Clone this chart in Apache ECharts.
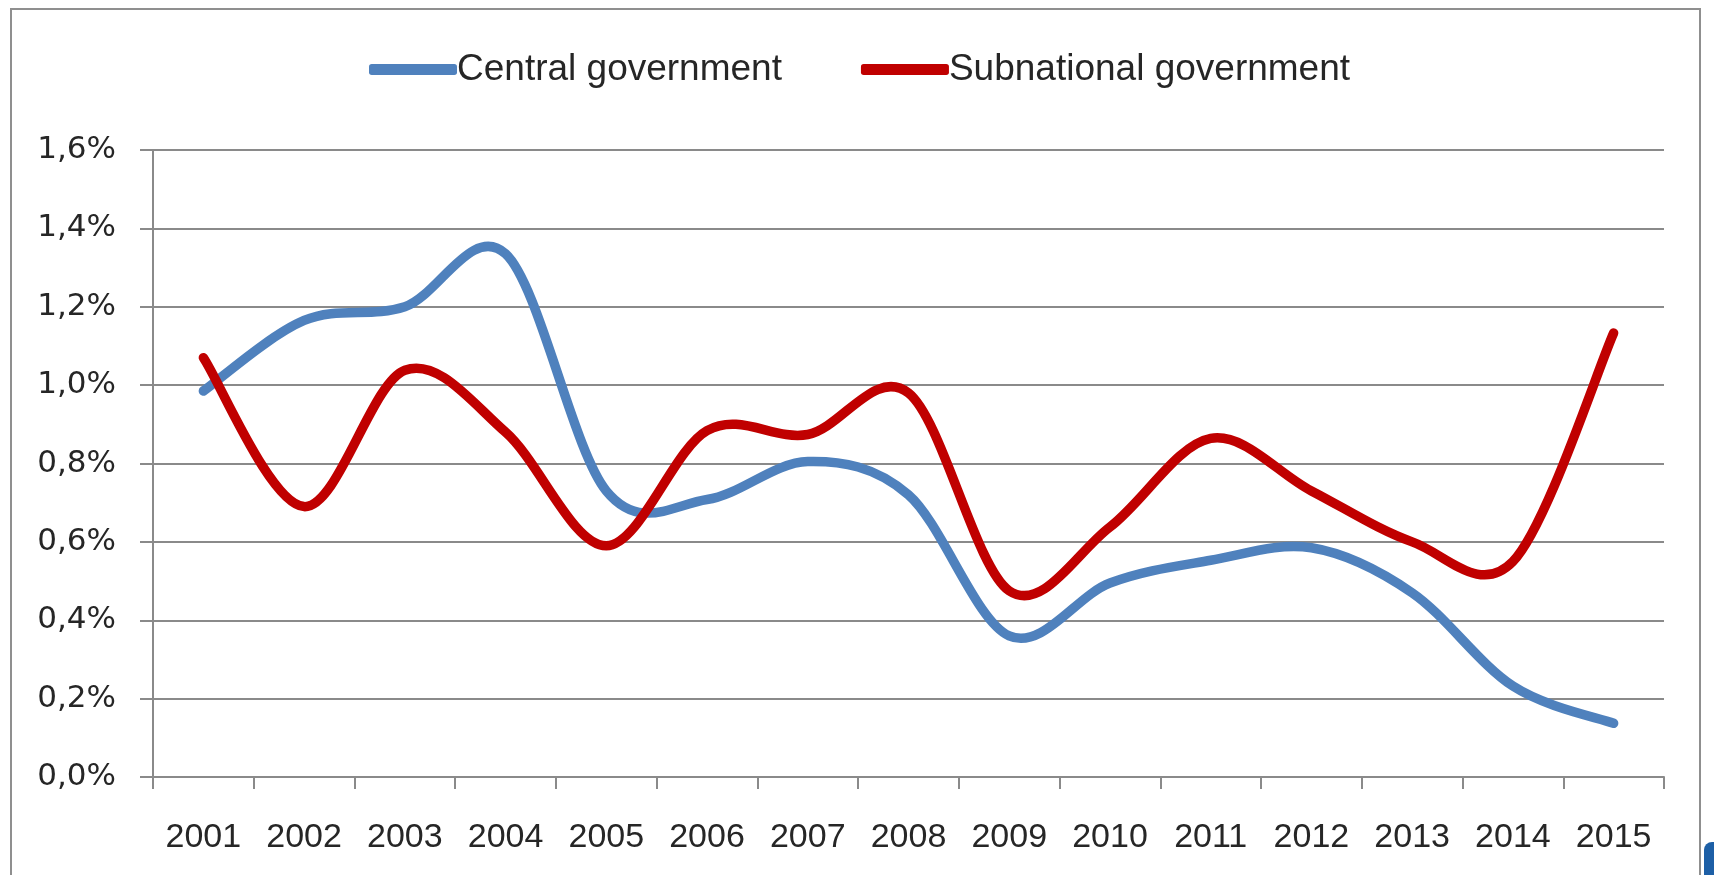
<!DOCTYPE html>
<html>
<head>
<meta charset="utf-8">
<script src="https://cdn.jsdelivr.net/npm/echarts@6/dist/echarts.min.js"></script>
<style>
  html, body { margin: 0; padding: 0; background: #fff; }
  #chart { width: 1714px; height: 875px; }
</style>
</head>
<body>
<div id="chart"></div>
<script>
// categories and values (in %)
var years = ['2001', '2002', '2003', '2004', '2005', '2006', '2007', '2008',
  '2009', '2010', '2011', '2012', '2013', '2014', '2015']
var central = [0.985, 1.165, 1.2, 1.335, 0.73, 0.708, 0.805, 0.72,
  0.36, 0.495, 0.553, 0.585, 0.47, 0.232, 0.137]
var subnational = [1.07, 0.69, 1.038, 0.88, 0.59, 0.884, 0.874, 0.98,
  0.475, 0.638, 0.864, 0.73, 0.6, 0.55, 1.133]
var yTicks = { min: 0, max: 1.6, step: 0.2 }

var gray = '#8a8a8a'
var textColor = '#262626'
var blue = '#4f81bd'
var red = '#c00000'

// Excel-style smoothed line (Catmull-Rom as cubic bezier), points come from api.coord
function smoothPath (api, values) {
  var pts = values.map(function (v, i) { return api.coord([i, v]) })
  var d = 'M' + pts[0][0] + ',' + pts[0][1]
  for (var i = 0; i < pts.length - 1; i++) {
    var p0 = pts[i - 1] || pts[i]
    var p1 = pts[i]
    var p2 = pts[i + 1]
    var p3 = pts[i + 2] || p2
    var c1x = p1[0] + (p2[0] - p0[0]) / 6
    var c1y = p1[1] + (p2[1] - p0[1]) / 6
    var c2x = p2[0] - (p3[0] - p1[0]) / 6
    var c2y = p2[1] - (p3[1] - p1[1]) / 6
    d += ' C' + c1x + ',' + c1y + ' ' + c2x + ',' + c2y + ' ' + p2[0] + ',' + p2[1]
  }
  return d
}

function lineSeries (name, values, color) {
  return {
    name: name,
    type: 'custom',
    data: values.map(function (v, i) { return [i, v] }),
    encode: { x: 0, y: 1 },
    itemStyle: { color: color },
    renderItem: function (params, api) {
      if (params.dataIndex !== 0) return null
      return {
        type: 'path',
        shape: { pathData: smoothPath(api, values) },
        style: {
          fill: 'none',
          stroke: color,
          lineWidth: 9.5,
          lineCap: 'round',
          lineJoin: 'round'
        }
      }
    }
  }
}

var myChart = echarts.init(document.getElementById('chart'))

myChart.setOption({
  animation: false,
  backgroundColor: '#fff',
  graphic: [
    {
      // outer frame of the chart area
      type: 'rect',
      shape: { x: 11, y: 9, width: 1689, height: 900 },
      style: { fill: 'none', stroke: '#8f8f8f', lineWidth: 2 },
      silent: true
    },
    {
      // cut-off blue shape in the lower right corner
      type: 'rect',
      shape: { x: 1704, y: 842, width: 20, height: 50, r: 8 },
      style: { fill: '#1d5fa6' },
      silent: true
    }
  ],
  legend: {
    top: 46,
    left: 364,
    itemWidth: 88,
    itemHeight: 11,
    itemGap: 79,
    icon: 'roundRect',
    textStyle: {
      fontFamily: '"Liberation Sans", Arial, sans-serif',
      fontSize: 37,
      color: textColor,
      padding: [0, 0, 0, -5]
    },
    data: [
      { name: 'Central government', itemStyle: { color: blue } },
      { name: 'Subnational government', itemStyle: { color: red } }
    ]
  },
  grid: {
    left: 153,
    right: 50,
    top: 150,
    bottom: 98,
    containLabel: false
  },
  xAxis: {
    type: 'category',
    boundaryGap: true,
    data: years,
    axisLine: { lineStyle: { color: gray, width: 2 } },
    axisTick: { show: true, length: 12, lineStyle: { color: gray, width: 2 } },
    axisLabel: {
      interval: 0,
      margin: 44,
      fontFamily: '"Liberation Sans", Arial, sans-serif',
      fontSize: 34,
      color: textColor
    },
    splitLine: { show: false }
  },
  yAxis: {
    type: 'value',
    min: yTicks.min,
    max: yTicks.max,
    interval: yTicks.step,
    axisLine: { show: true, lineStyle: { color: gray, width: 2 } },
    axisTick: { show: true, length: 13, lineStyle: { color: gray, width: 2 } },
    axisLabel: {
      margin: 37,
      fontFamily: '"DejaVu Sans", sans-serif',
      fontSize: 31,
      color: textColor,
      formatter: function (v) {
        return v.toFixed(1).replace('.', ',') + '%'
      }
    },
    splitLine: { lineStyle: { color: gray, width: 2 } }
  },
  series: [
    lineSeries('Central government', central, blue),
    lineSeries('Subnational government', subnational, red)
  ]
})
</script>
</body>
</html>
